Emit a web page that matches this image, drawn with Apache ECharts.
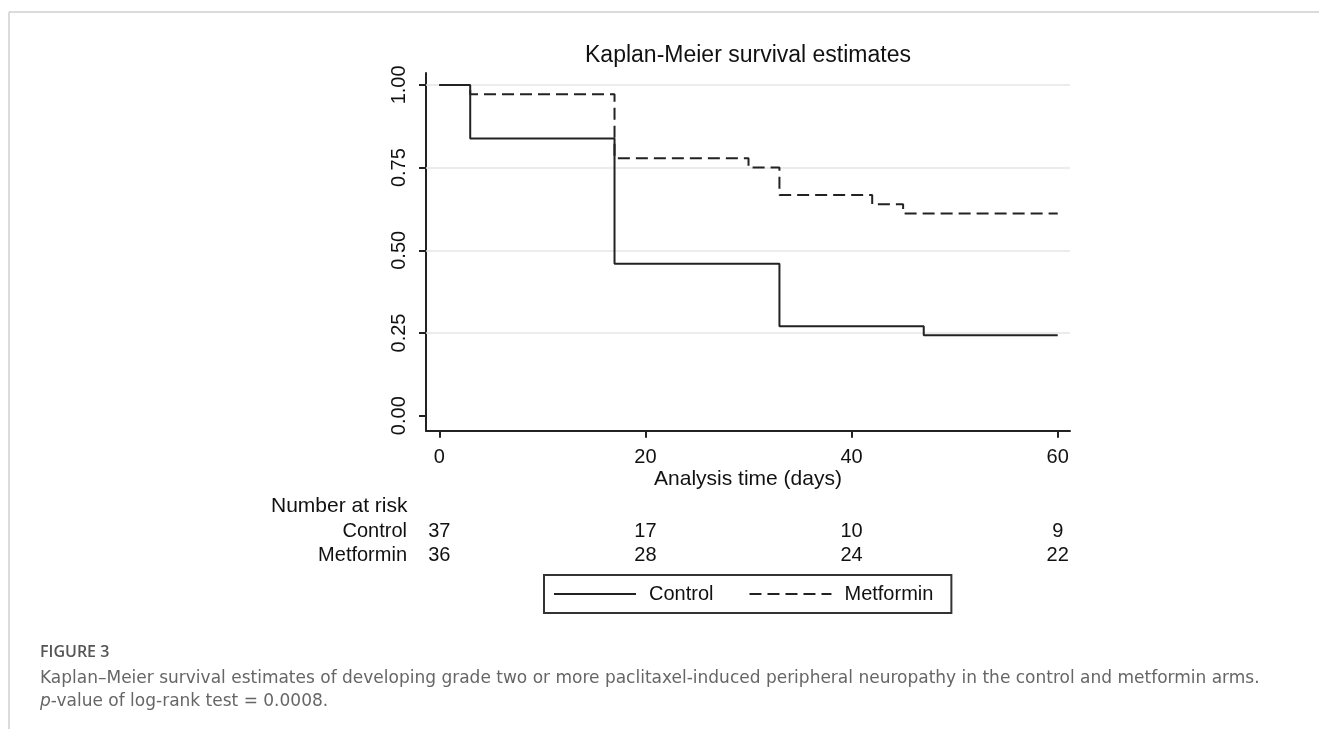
<!DOCTYPE html>
<html><head><meta charset="utf-8">
<script src="https://cdn.jsdelivr.net/npm/echarts@6/dist/echarts.min.js"></script>
<style>html,body{margin:0;padding:0;background:#fff}#c{width:1319px;height:729px}</style>
</head><body><div id="c"></div>
<script>
const timeTicks = [0, 20, 40, 60];
const survTicks = [0, 0.25, 0.5, 0.75, 1];
const gridValues = [0.25, 0.5, 0.75, 1];
const controlTimes = [0, 3, 17, 33, 47, 60];
const controlSurv = [1, 0.838, 0.459, 0.270, 0.243, 0.243];
const metforminTimes = [0, 3, 17, 30, 33, 42, 45, 60];
const metforminSurv = [1, 0.972, 0.778, 0.750, 0.667, 0.639, 0.611, 0.611];
const riskControl = [37, 17, 10, 9];
const riskMetformin = [36, 28, 24, 22];
const groupNames = ['Control', 'Metformin'];

const FONT = '"Liberation Sans", Arial, sans-serif';
const CAP = '"DejaVu Sans", "Open Sans", sans-serif';
const INK = '#111';

const xMin = -1.29, xMax = 61.19, yMin = -0.0454, yMax = 1.036;

function riskAxis(values, offset) {
  return {
    type: 'value', min: xMin, max: xMax, position: 'bottom', offset: offset,
    axisLine: {show: false}, axisTick: {show: false}, splitLine: {show: false},
    axisLabel: {customValues: timeTicks, margin: 0, verticalAlign: 'middle',
      fontFamily: FONT, fontSize: 20, color: INK,
      formatter: v => String(values[timeTicks.indexOf(v)])}
  };
}

const chart = echarts.init(document.getElementById('c'), null, {renderer: 'canvas'});
chart.setOption({
  animation: false,
  backgroundColor: '#fff',
  title: [
    {text: 'Kaplan-Meier survival estimates', left: 748, top: 44, textAlign: 'center', padding: 0,
     textStyle: {fontFamily: FONT, fontSize: 23, fontWeight: 'normal', color: INK}},
    {text: 'Number at risk', left: 271, top: 496, padding: 0,
     textStyle: {fontFamily: FONT, fontSize: 21, fontWeight: 'normal', color: INK}},
    {text: groupNames[0], right: 912, top: 521, padding: 0,
     textStyle: {fontFamily: FONT, fontSize: 20, fontWeight: 'normal', color: INK}},
    {text: groupNames[1], right: 912, top: 545, padding: 0,
     textStyle: {fontFamily: FONT, fontSize: 20, fontWeight: 'normal', color: INK}},
    {text: 'FIGURE 3', left: 40, top: 644, padding: 0,
     textStyle: {fontFamily: '"Open Sans", sans-serif', fontSize: 16, fontWeight: 600, color: '#555'}},
    {text: 'Kaplan\u2013Meier survival estimates of developing grade two or more paclitaxel-induced peripheral neuropathy in the control and metformin arms.',
     left: 40, top: 670, padding: 0,
     textStyle: {fontFamily: CAP, fontSize: 17, fontWeight: 'normal', color: '#666'}},
    {text: '{i|p}-value of log-rank test = 0.0008.', left: 40, top: 693, padding: 0,
     textStyle: {fontFamily: CAP, fontSize: 17, fontWeight: 'normal', color: '#666',
       rich: {i: {fontFamily: CAP, fontSize: 17, fontStyle: 'italic', color: '#666'}}}}
  ],
  graphic: [
    {type: 'line', shape: {x1: 9, y1: 12, x2: 1319, y2: 12}, style: {stroke: '#cfcfcf', lineWidth: 1.5}},
    {type: 'line', shape: {x1: 9, y1: 12, x2: 9, y2: 729}, style: {stroke: '#cfcfcf', lineWidth: 1.5}}
  ],
  legend: {
    data: groupNames, left: 544, top: 575, orient: 'horizontal',
    itemWidth: 82, itemHeight: 20, itemGap: 35,
    padding: [9, 18, 9, 9],
    itemStyle: {opacity: 0},
    borderColor: '#333', borderWidth: 2, borderRadius: 0, backgroundColor: '#fff',
    textStyle: {fontFamily: FONT, fontSize: 20, color: INK, padding: [0, 0, 0, 8]}
  },
  grid: {left: 426, top: 73, right: 249, bottom: 298.3, containLabel: false},
  xAxis: [
    {type: 'value', min: xMin, max: xMax, position: 'bottom',
     axisLine: {show: true, onZero: false, lineStyle: {color: '#222', width: 2}},
     axisTick: {show: true, customValues: timeTicks, length: 7, lineStyle: {color: '#222', width: 2}},
     axisLabel: {customValues: timeTicks, margin: 17, fontFamily: FONT, fontSize: 20, color: INK},
     splitLine: {show: false},
     name: 'Analysis time (days)', nameLocation: 'middle', nameGap: 34,
     nameTextStyle: {fontFamily: FONT, fontSize: 21, color: INK}},
    riskAxis(riskControl, 101),
    riskAxis(riskMetformin, 125)
  ],
  yAxis: [{
    type: 'value', min: yMin, max: yMax,
    axisLine: {show: true, onZero: false, lineStyle: {color: '#222', width: 2}},
    axisTick: {show: true, customValues: survTicks, length: 7, lineStyle: {color: '#222', width: 2}},
    axisLabel: {customValues: survTicks, rotate: 90, margin: 17, fontFamily: FONT, fontSize: 20, color: INK,
      formatter: v => v.toFixed(2)},
    splitLine: {show: false}
  }],
  series: [
    {name: groupNames[0], type: 'line', step: 'end', symbol: 'none', xAxisIndex: 0, yAxisIndex: 0, z: 3,
     data: controlTimes.map((t, i) => [t, controlSurv[i]]),
     lineStyle: {color: '#222', width: 2, type: 'solid'}, itemStyle: {color: '#222'},
     markLine: {silent: true, symbol: 'none', z: 1, label: {show: false},
       lineStyle: {color: '#e6e6e6', width: 1.5, type: 'solid'},
       emphasis: {disabled: true},
       data: gridValues.map(v => ({yAxis: v}))}},
    {name: groupNames[1], type: 'line', step: 'end', symbol: 'none', xAxisIndex: 0, yAxisIndex: 0, z: 4,
     data: metforminTimes.map((t, i) => [t, metforminSurv[i]]),
     lineStyle: {color: '#222', width: 2, type: [12, 6]}, itemStyle: {color: '#222'}}
  ]
});
</script></body></html>
